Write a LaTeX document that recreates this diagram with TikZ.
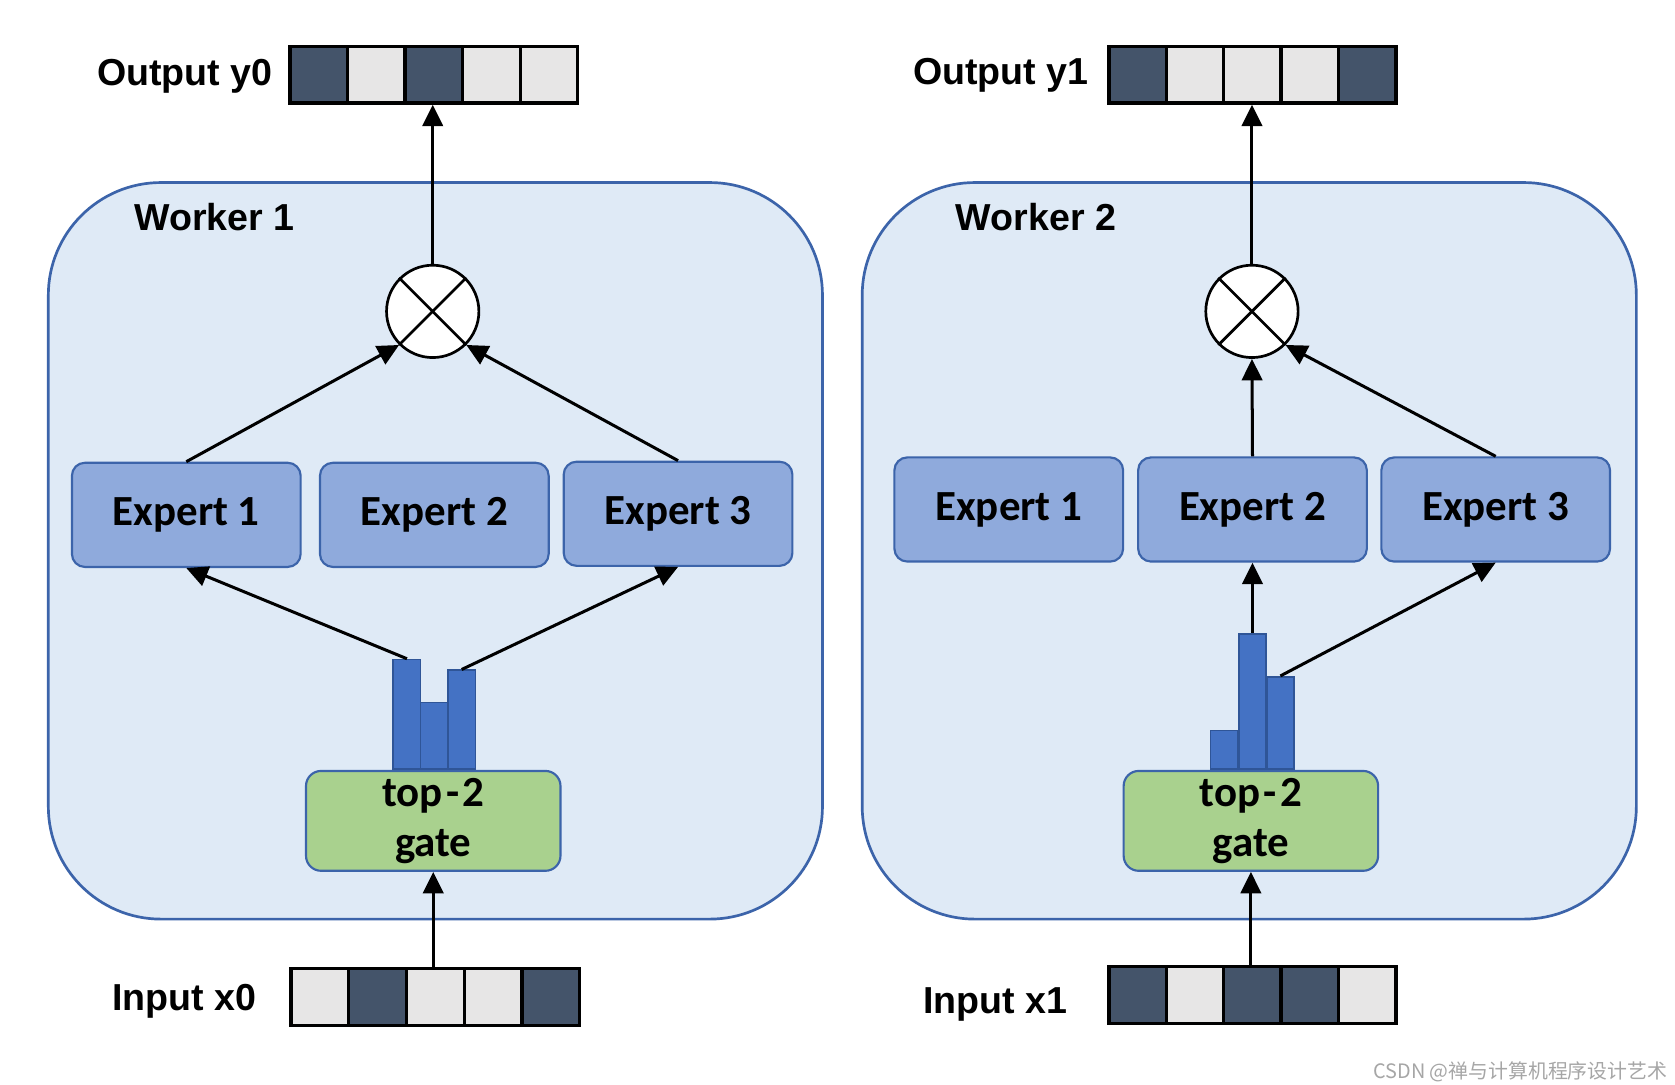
\documentclass[tikz,border=0pt]{standalone}
\usepackage{fontspec}
\setmainfont{Liberation Sans}
\newfontfamily\calfont{Carlito}
\newfontfamily\cjkfont{Noto Sans CJK SC}
\usetikzlibrary{arrows.meta}
\definecolor{wfill}{HTML}{DFEAF6}
\definecolor{wline}{HTML}{3C64AA}
\definecolor{efill}{HTML}{8FAADC}
\definecolor{bfill}{HTML}{4472C4}
\definecolor{bline}{HTML}{2F5597}
\definecolor{gfill}{HTML}{A9D18E}
\definecolor{dcell}{HTML}{44546A}
\definecolor{lcell}{HTML}{E7E6E6}
\tikzset{
  worker/.style={draw=wline, line width=2.5pt, fill=wfill, rounded corners=105pt,
    minimum width=721pt, minimum height=686pt, inner sep=0pt},
  expert/.style={draw=wline, line width=2pt, fill=efill, rounded corners=12pt,
    minimum width=213pt, minimum height=97pt, inner sep=0pt,
    font=\calfont\bfseries\fontsize{40}{46}\selectfont},
  gatebox/.style={draw=wline, line width=2pt, fill=gfill, rounded corners=14pt,
    minimum width=237pt, minimum height=93pt, inner sep=0pt, align=center,
    font=\calfont\bfseries\fontsize{40}{46}\selectfont},
  bar/.style={draw=bline, line width=1.5pt, fill=bfill, minimum width=25.5pt,
    anchor=south, inner sep=0pt},
  cell/.style={draw=black, line width=3pt, minimum width=53.6pt, minimum height=53pt, inner sep=0pt},
  dark/.style={cell, fill=dcell},
  light/.style={cell, fill=lcell},
  mult/.style={circle, draw=black, line width=2.5pt, fill=white, minimum size=86pt, inner sep=0pt},
  arr/.style={line width=2.8pt, -{Triangle[length=20pt,width=19pt]}},
  lab/.style={font=\bfseries\fontsize{35}{40}\selectfont, inner sep=0pt},
}
\newcommand{\tophyph}{top\kern3pt-\kern3pt2}
\begin{document}
\begin{tikzpicture}[x=1pt,y=-1pt]
\fill[white] (0,0) rectangle (1560,1010);
\useasboundingbox (0,0) rectangle (1560,1010);

% worker boxes
\node[worker] (w1) at (405.5,513) {};
\node[worker] (w2) at (1163.5,513) {};
\node[lab, anchor=base west] (w1lab) at (125,215) {Worker 1};
\node[lab, anchor=base west] (w2lab) at (890,215) {Worker 2};

% output arrays
\foreach \c [count=\i] in {dark,light,dark,light,light}
  \node[\c] (y0-\i) at ({270+53.6*(\i-0.5)},69.5) {};
\foreach \c [count=\i] in {dark,light,light,light,dark}
  \node[\c] (y1-\i) at ({1033+53.4*(\i-0.5)},69.5) {};
\node[lab, anchor=base east] (y0lab) at (254,80) {Output y0};
\node[lab, anchor=base east] (y1lab) at (1014,79) {Output y1};

% input arrays
\foreach \c [count=\i] in {light,dark,light,light,dark}
  \node[\c] (x0-\i) at ({271+53.8*(\i-0.5)},928.5) {};
\foreach \c [count=\i] in {dark,light,dark,dark,light}
  \node[\c] (x1-\i) at ({1033+53.4*(\i-0.5)},926.5) {};
\node[lab, anchor=base east] (x0lab) at (239,941) {Input x0};
\node[lab, anchor=base east] (x1lab) at (994,944) {Input x1};

% multipliers
\node[mult] (m1) at (403,290) {};
\node[mult] (m2) at (1166,290) {};
\foreach \m in {m1,m2}
  \draw[line width=2.5pt] (\m.45) -- (\m.225) (\m.135) -- (\m.315);

% experts
\node[expert] (e11) at (173.5,479.5) {Expert 1};
\node[expert] (e12) at (404.5,479.5) {Expert 2};
\node[expert] (e13) at (631.5,478.5) {Expert 3};
\node[expert] (e21) at (939.5,474.5) {Expert 1};
\node[expert] (e22) at (1166.5,474.5) {Expert 2};
\node[expert] (e23) at (1393,474.5) {Expert 3};

% gates
\node[gatebox] (g1) at (403.5,764.5) {\tophyph\\gate};
\node[gatebox] (g2) at (1165,764.5) {\tophyph\\gate};

% bars
\node[bar, minimum height=102pt] (b11) at (379,717) {};
\node[bar, minimum height=62pt]  (b12) at (404.5,717) {};
\node[bar, minimum height=92pt]  (b13) at (430,717) {};
\node[bar, minimum height=36pt]  (b21) at (1140,717) {};
\node[bar, minimum height=126pt] (b22) at (1166.5,717) {};
\node[bar, minimum height=86pt]  (b23) at (1192.5,717) {};

% connectors worker 1
\draw[arr] (m1.north) -- (m1.north |- y0-3.south);
\draw[arr] (e11.north) -- (m1.225);
\draw[arr] (e13.north) -- (m1.315);
\draw[arr] (b11.north) -- (e11.south);
\draw[arr] (b13.north) -- (e13.south);
\draw[arr] (x0-3.north -| g1.south) -- (g1.south);

% connectors worker 2
\draw[arr] (m2.north) -- (m2.north |- y1-3.south);
\draw[arr] (e22.north) -- (m2.south);
\draw[arr] (e23.north) -- (m2.315);
\draw[arr] (b22.north) -- (b22.north |- e22.south);
\draw[arr] (b23.north) -- (e23.south);
\draw[arr] (x1-3.north -| g2.south) -- (g2.south);

% watermark
\node[anchor=east, text=black!35, font=\cjkfont\fontsize{18.5}{20}\selectfont, inner sep=0pt] (wm) at (1553,998) {CSDN @禅与计算机程序设计艺术};
\end{tikzpicture}
\end{document}
